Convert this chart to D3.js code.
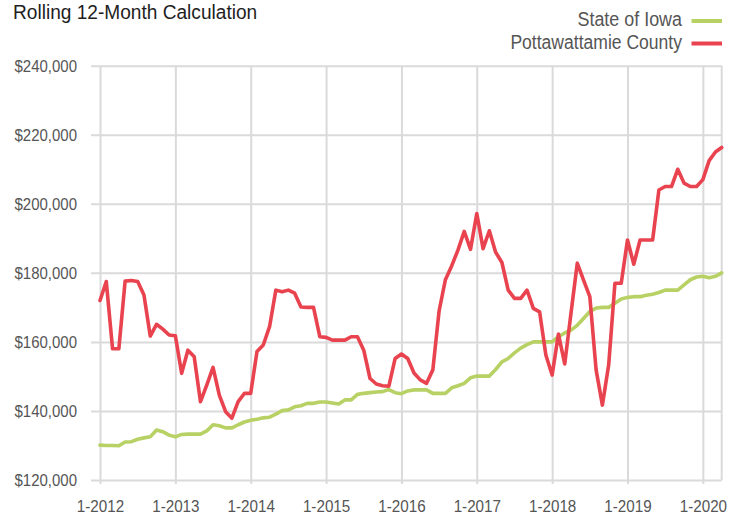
<!DOCTYPE html>
<html>
<head>
<meta charset="utf-8">
<script src="https://cdn.jsdelivr.net/npm/d3@7"></script>
<style>
  html, body { margin: 0; padding: 0; background: #fff; }
  svg { display: block; }
  text { font-family: "Liberation Sans", Arial, sans-serif; }
</style>
</head>
<body>
<svg id="chart" width="743" height="515"></svg>
<script>
const title = "Rolling 12-Month Calculation";
const seriesNames = ["State of Iowa", "Pottawattamie County"];
const seriesColors = ["#b7d165", "#e8434e"];
const xTickLabels = ["1-2012","1-2013","1-2014","1-2015","1-2016","1-2017","1-2018","1-2019","1-2020"];
const yTicks = [120000,140000,160000,180000,200000,220000,240000];

// Monthly values, Jan 2012 - Apr 2020
const iowa = [
  130100,130000,130000,129900,131000,131100,131800,132200,132500,134500,134000,133000,
  132500,133200,133300,133300,133300,134200,136000,135700,135100,135100,136000,136800,
  137300,137600,138000,138200,139100,140100,140300,141200,141500,142200,142200,142600,
  142600,142300,142000,143200,143200,144800,145100,145300,145500,145600,146200,145300,
  145000,145800,146100,146100,146100,145100,145100,145100,146700,147300,148000,149600,
  150100,150100,150100,152000,154200,155200,156800,158200,159200,160000,160000,160000,
  160000,161500,162600,163400,164800,166800,168800,169800,170000,170000,171200,172400,
  172900,173100,173100,173500,173800,174300,175000,175000,175000,176500,178000,178800,
  179000,178600,179000,180000
];
const pottawattamie = [
  172000,177500,158000,158000,177600,177800,177500,173600,161700,165100,163700,162000,
  161800,150900,157600,155700,142700,147500,152600,144600,139800,137900,142700,145100,
  145100,157200,159100,164400,175000,174500,175000,174100,170100,170000,170000,161500,
  161300,160500,160500,160500,161500,161500,157600,149400,147800,147300,147200,155200,
  156500,155200,151000,149000,148000,151900,169000,178000,182000,186600,192000,186800,
  197200,187000,192200,186000,183000,175000,172600,172600,175000,169700,168700,156200,
  150400,162300,153600,168300,182800,177900,173100,151900,141700,153300,177000,177000,
  189500,182500,189500,189500,189500,204000,205000,205000,210000,206000,205000,205000,
  207000,212500,215000,216300
];

const svg = d3.select("#chart");
const mLeft = 100, mRight = 721.7, mTop = 65.7, mBottom = 480;

const x = d3.scaleLinear().domain([0, iowa.length - 1]).range([mLeft, mRight]);
const y = d3.scaleLinear().domain([120000, 240000]).range([mBottom, mTop]);

const gridColor = "#dadada";
const labelColor = "#555";

// compress text horizontally to imitate a condensed face
function condense(sel, factor) {
  sel.each(function () {
    const w = this.getComputedTextLength();
    d3.select(this).attr("textLength", w * factor).attr("lengthAdjust", "spacingAndGlyphs");
  });
}

// horizontal grid + y axis labels
const yAxis = d3.axisLeft(y).tickValues(yTicks)
  .tickSize(0)
  .tickFormat(d => "$" + d3.format(",")(d));
const gy = svg.append("g").attr("transform", `translate(${mLeft - 9},0)`).call(yAxis);
gy.select(".domain").remove();
gy.selectAll(".tick line").attr("stroke", gridColor).attr("stroke-width", 2).attr("x1", 0).attr("x2", mRight - mLeft + 9);
gy.selectAll(".tick text").attr("fill", labelColor).attr("font-size", 16.3).attr("x", -14).attr("dy", "0.35em")
  .attr("font-family", "'Liberation Sans', Arial, sans-serif");
condense(gy.selectAll(".tick text"), 0.92);

// vertical grid + x axis labels
const xTickVals = xTickLabels.map((d, i) => i * 12);
const xAxis = d3.axisBottom(x).tickValues(xTickVals)
  .tickSize(0)
  .tickFormat((d, i) => xTickLabels[i]);
const gx = svg.append("g").attr("transform", `translate(0,${mBottom})`).call(xAxis);
gx.select(".domain").remove();
gx.selectAll(".tick line").attr("stroke", gridColor).attr("stroke-width", 2)
  .attr("y1", -(mBottom - mTop)).attr("y2", 4);
gx.selectAll(".tick text").attr("fill", labelColor).attr("font-size", 16).attr("y", 0).attr("dy", 0)
  .attr("font-family", "'Liberation Sans', Arial, sans-serif")
  .attr("transform", "translate(0,31.5)");
condense(gx.selectAll(".tick text"), 0.95);

// right border
svg.append("line").attr("x1", mRight).attr("x2", mRight).attr("y1", mTop).attr("y2", mBottom)
  .attr("stroke", gridColor).attr("stroke-width", 2);

// lines
const line = d3.line().x((d, i) => x(i)).y(d => y(d)).curve(d3.curveLinear);
[iowa, pottawattamie].forEach((s, k) => {
  svg.append("path").datum(s)
    .attr("fill", "none")
    .attr("stroke", seriesColors[k])
    .attr("stroke-width", 3.6)
    .attr("stroke-linejoin", "round")
    .attr("stroke-linecap", "round")
    .attr("d", line);
});

// title
const t = svg.append("text").attr("x", 13).attr("y", 18.5).attr("fill", "#1e1e1e")
  .attr("font-size", 20).text(title);
condense(t, 0.955);

// legend
const legendY = [26, 49.3];
const swatchY = [21, 43.5];
seriesNames.forEach((n, k) => {
  const lt = svg.append("text").attr("x", 682).attr("y", legendY[k]).attr("text-anchor", "end")
    .attr("fill", labelColor).attr("font-size", 20).text(n);
  condense(lt, k === 0 ? 0.895 : 0.877);
  svg.append("line").attr("x1", 691.5).attr("x2", 722)
    .attr("y1", swatchY[k]).attr("y2", swatchY[k])
    .attr("stroke", seriesColors[k]).attr("stroke-width", 4);
});
</script>
</body>
</html>
